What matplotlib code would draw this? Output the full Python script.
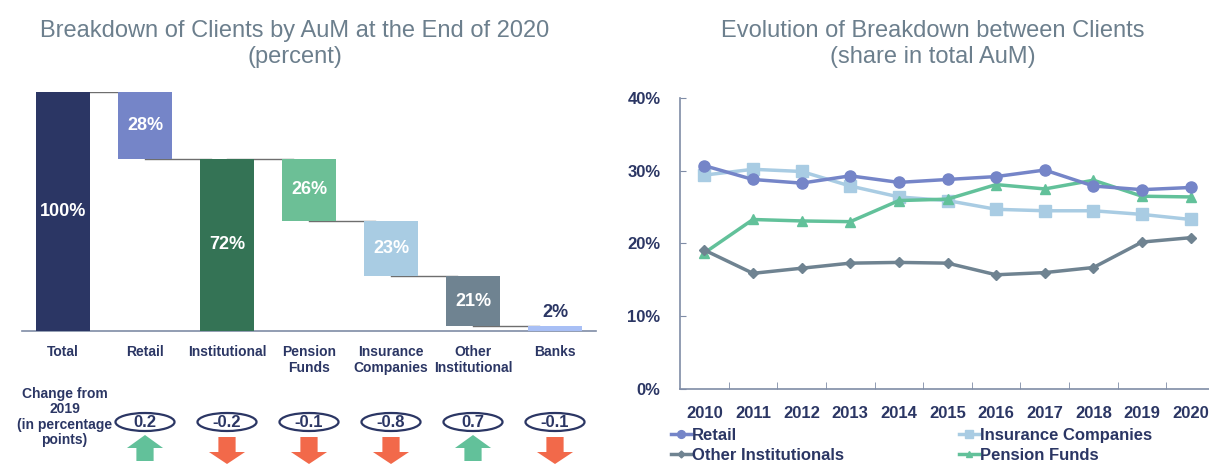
import matplotlib
matplotlib.use("Agg")
import matplotlib.pyplot as plt
from matplotlib.patches import Ellipse, Polygon

plt.rcParams['font.family'] = ['Liberation Sans', 'DejaVu Sans']

# ---- data: breakdown of clients by AuM, end of 2020 (percent) ----
categories = ["Total", "Retail", "Institutional", "Pension\nFunds",
              "Insurance\nCompanies", "Other\nInstitutional", "Banks"]
shares = [100, 28, 72, 26, 23, 21, 2]
# which bars are totals (start at zero) versus steps down the waterfall
is_total = [True, False, True, False, False, False, False]
change_2019 = [0.2, -0.2, -0.1, -0.8, 0.7, -0.1]   # Retail .. Banks

# ---- data: share in total AuM over time (percent) ----
years = ["2010", "2011", "2012", "2013", "2014", "2015",
         "2016", "2017", "2018", "2019", "2020"]
retail = [30.7, 28.8, 28.3, 29.3, 28.4, 28.8, 29.2, 30.1, 27.9, 27.4, 27.7]
insurance = [29.4, 30.2, 29.9, 27.9, 26.4, 25.9, 24.7, 24.5, 24.5, 24.0, 23.3]
other_inst = [19.1, 15.9, 16.6, 17.3, 17.4, 17.3, 15.7, 16.0, 16.7, 20.2, 20.8]
pension = [18.7, 23.3, 23.1, 23.0, 25.9, 26.1, 28.1, 27.5, 28.7, 26.5, 26.4]

NAVY = "#2B3664"
TITLE = "#6C7F8D"
AXIS = "#7F8CA6"
bar_colors = ["#2B3664", "#7585C8", "#347355", "#6CBF96",
              "#A9CCE3", "#6F8391", "#A8BFF5"]
UP = "#62C19A"
DOWN = "#F2694A"

W, H = 1209, 474
fig = plt.figure(figsize=(W / 100, H / 100), dpi=100)


def px_axes(x0, y0, x1, y1):
    """Axes placed by pixel box (top-left origin)."""
    return fig.add_axes([x0 / W, 1 - y1 / H, (x1 - x0) / W, (y1 - y0) / H])


# ================= left: waterfall =================
axw = px_axes(22, 92, 596, 331)
xs = list(range(len(categories)))
bottoms = []
level = 100
for i, (v, tot) in enumerate(zip(shares, is_total)):
    if tot:
        b = 0
        if i > 0:
            level = v
    else:
        b = level - v
        level = b
    bottoms.append(b)

bw = 0.66
axw.bar(xs, shares, bottom=bottoms, width=bw, color=bar_colors, zorder=3)

# connectors between consecutive bars
tops = [b + v for b, v in zip(bottoms, shares)]
for i in range(len(xs) - 1):
    if not is_total[i] and is_total[i + 1]:
        yv = bottoms[i]
    else:
        yv = tops[i + 1]
    axw.plot([xs[i], xs[i + 1] - 0.2], [yv, yv], color="#6E6E6E", lw=1.0,
             zorder=2)

for i, (b, v) in enumerate(zip(bottoms, shares)):
    if v >= 10:
        axw.text(xs[i], b + v / 2, f"{v}%", ha="center", va="center",
                 color="white", fontsize=13, fontweight="bold", zorder=4)
    else:
        axw.text(xs[i], b + v + 2, f"{v}%", ha="center", va="bottom",
                 color=NAVY, fontsize=13, fontweight="bold", zorder=4)

axw.set_xlim(-0.5, 6.5)
axw.set_ylim(0, 100)
for s in ["top", "right", "left"]:
    axw.spines[s].set_visible(False)
axw.spines["bottom"].set_color(AXIS)
axw.spines["bottom"].set_linewidth(1.2)
axw.set_yticks([])
axw.set_xticks(xs)
axw.set_xticklabels(categories, fontsize=10, fontweight="bold", color=NAVY,
                    linespacing=1.2, va="top")
axw.tick_params(axis="x", length=0, pad=10)

# change-from-2019 row
axc = px_axes(22, 380, 596, 474)
axc.set_xlim(-0.5, 6.5)
axc.set_ylim(474, 380)
axc.axis("off")
axc.text(0.02, 417, "Change from\n2019\n(in percentage\npoints)", ha="center",
         va="center", fontsize=10, fontweight="bold", color=NAVY,
         linespacing=1.12)
for j, d in enumerate(change_2019):
    xc = xs[j + 1]
    axc.add_patch(Ellipse((xc, 422), 0.72, 18, facecolor="white",
                          edgecolor=NAVY, lw=1.6))
    axc.text(xc, 422.5, f"{d:g}", ha="center", va="center", fontsize=12,
             fontweight="bold", color=NAVY)
    hw, sw = 0.22, 0.105
    if d > 0:
        pts = [(xc, 435), (xc + hw, 448), (xc + sw, 448), (xc + sw, 461),
               (xc - sw, 461), (xc - sw, 448), (xc - hw, 448)]
        col = UP
    else:
        pts = [(xc - sw, 437), (xc + sw, 437), (xc + sw, 452), (xc + hw, 452),
               (xc, 464), (xc - hw, 452), (xc - sw, 452)]
        col = DOWN
    axc.add_patch(Polygon(pts, closed=True, facecolor=col, edgecolor="none"))

fig.text(295 / W, 1 - 44 / H, "Breakdown of Clients by AuM at the End of 2020\n(percent)",
         ha="center", va="center", fontsize=17, color=TITLE, linespacing=1.25)

# ================= right: line chart =================
axl = px_axes(680, 98, 1215, 389)
xi = list(range(len(years)))
axl.plot(xi, insurance, color="#A9CCE3", lw=2.5, marker="s", ms=8,
         label="Insurance Companies", zorder=3)
axl.plot(xi, pension, color="#62C19A", lw=2.5, marker="^", ms=7,
         label="Pension Funds", zorder=3)
axl.plot(xi, other_inst, color="#6F8391", lw=2.5, marker="D", ms=5,
         label="Other Institutionals", zorder=3)
axl.plot(xi, retail, color="#7585C8", lw=2.5, marker="o", ms=8,
         label="Retail", zorder=4)

axl.set_xlim(-0.5, 10.5)
axl.set_ylim(0, 40)
axl.set_yticks([0, 10, 20, 30, 40])
axl.set_yticklabels([f"{v}%" for v in [0, 10, 20, 30, 40]])
axl.set_xticks(xi)
axl.set_xticklabels(years)
axl.set_xticks([k + 0.5 for k in range(10)], minor=True)
for s in ["top", "right"]:
    axl.spines[s].set_visible(False)
for s in ["left", "bottom"]:
    axl.spines[s].set_color(AXIS)
    axl.spines[s].set_linewidth(1.2)
axl.tick_params(axis="y", direction="in", length=4, color=AXIS, pad=14,
                labelsize=12, labelcolor=NAVY)
axl.tick_params(axis="x", which="major", length=0, pad=12, labelsize=12,
                labelcolor=NAVY)
axl.tick_params(axis="x", which="minor", direction="in", length=5, color=AXIS)
for lab in axl.get_xticklabels() + axl.get_yticklabels():
    lab.set_fontweight("bold")

h = {l.get_label(): l for l in axl.get_lines()}
order = ["Retail", "Other Institutionals", "Insurance Companies", "Pension Funds"]
leg = fig.legend([h[k] for k in order], order, ncol=2, loc="upper left",
                 bbox_to_anchor=(671 / W, 1 - 428 / H), frameon=False,
                 prop={"weight": "bold", "size": 12}, labelcolor=NAVY,
                 handlelength=1.2, handletextpad=0.05, columnspacing=6.9,
                 labelspacing=0.3, borderpad=0, borderaxespad=0,
                 markerscale=0.7)

fig.text(933 / W, 1 - 44 / H, "Evolution of Breakdown between Clients\n(share in total AuM)",
         ha="center", va="center", fontsize=17, color=TITLE, linespacing=1.25)

fig.savefig("out.png", dpi=100)
